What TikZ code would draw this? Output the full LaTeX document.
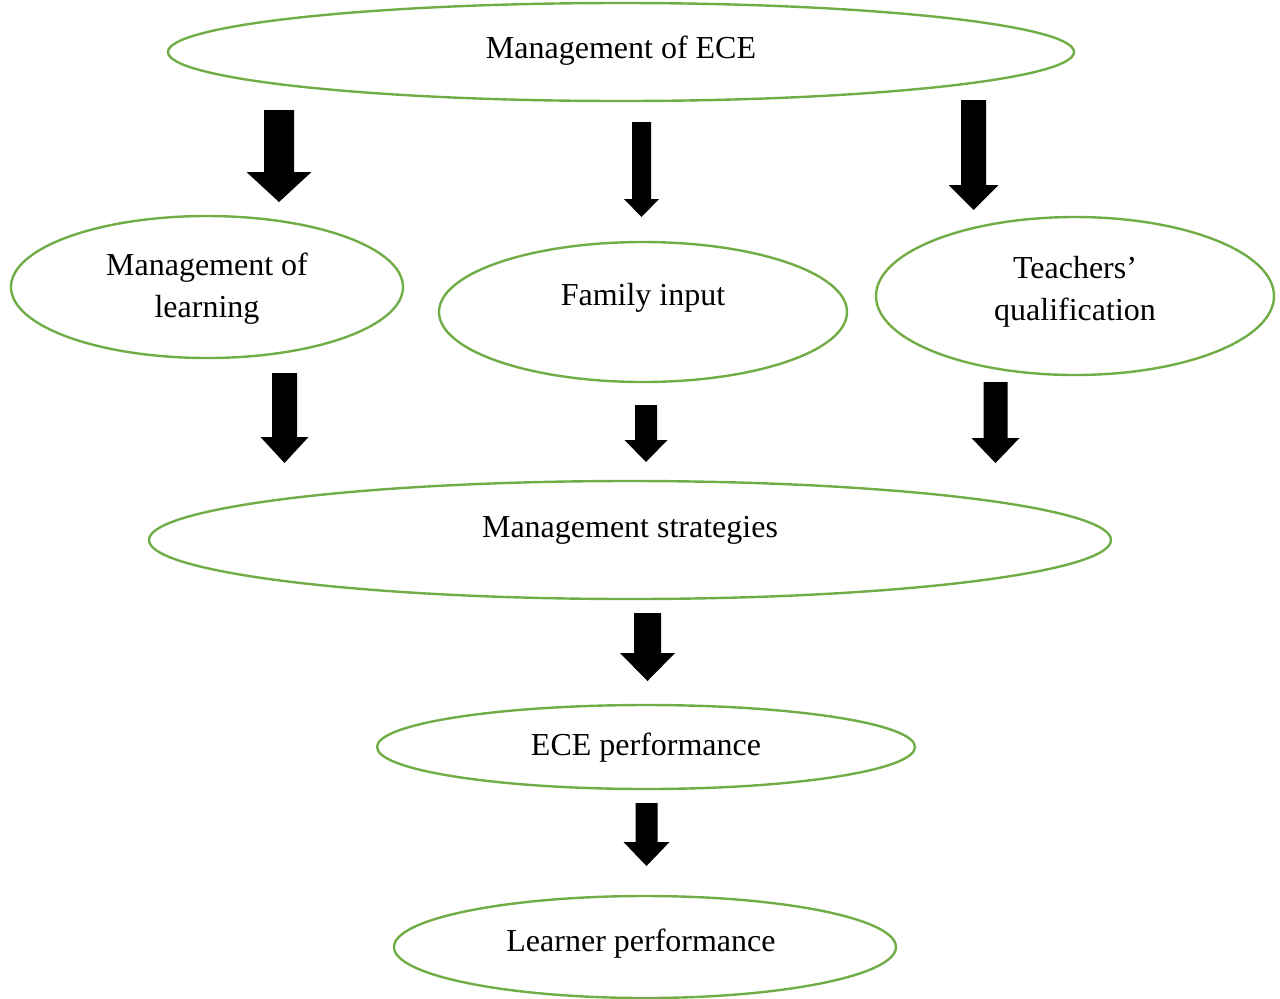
\documentclass[tikz,border=0pt]{standalone}
\usepackage{fontspec}
\setmainfont{Liberation Serif}
\usetikzlibrary{shapes.geometric}
\definecolor{ovalgreen}{HTML}{70AD47}
% block arrow: centre x, top y, head start y, tip y, shaft half width, head half width
\newcommand\blockarrow[6]{%
  \fill[black] ({#1-#5},#2) -- ({#1+#5},#2) -- ({#1+#5},#3) -- ({#1+#6},#3)
    -- (#1,#4) -- ({#1-#6},#3) -- ({#1-#5},#3) -- cycle;}
\begin{document}
\begin{tikzpicture}[x=0.5pt,y=-0.5pt,
  oval/.style={ellipse,draw=ovalgreen,line width=1.2pt,inner sep=0pt},
  label/.style={font=\fontsize{16pt}{21pt}\selectfont,inner sep=0pt,anchor=base,align=center}]
\useasboundingbox (0,0) rectangle (1280,998);
% ovals
\node[oval,minimum width=453pt,minimum height=49pt] (ece) at (621,52) {};
\node[oval,minimum width=196pt,minimum height=71pt] (learn) at (207,287) {};
\node[oval,minimum width=204pt,minimum height=70pt] (family) at (643,312) {};
\node[oval,minimum width=199pt,minimum height=79pt] (teach) at (1075,296) {};
\node[oval,minimum width=481pt,minimum height=59pt] (strat) at (630,540) {};
\node[oval,minimum width=269pt,minimum height=42pt] (eceperf) at (646,747) {};
\node[oval,minimum width=251pt,minimum height=51pt] (learner) at (645,947) {};
% texts (the base anchor of a two-line label sits on its last line)
\node[label] (t-ece) at (621,58) {Management of ECE};
\node[label] (t-learn) at (207,317) {Management of\\learning};
\node[label] (t-family) at (643,305) {Family input};
\node[label] (t-teach) at (1075,320) {Teachers’\\qualification};
\node[label] (t-strat) at (630,537) {Management strategies};
\node[label] (t-eceperf) at (646,755) {ECE performance};
\node[label] (t-learner) at (641,951) {Learner performance};
% arrows
\blockarrow{279}{110}{172}{202}{15}{32.5}
\blockarrow{641.5}{122}{199}{217}{9.5}{17.5}
\blockarrow{973.5}{100}{185}{210}{12.5}{25}
\blockarrow{284.5}{373}{437}{463}{12.5}{24}
\blockarrow{646}{405}{440}{462}{11}{21.5}
\blockarrow{995.5}{382}{438}{463}{12}{24}
\blockarrow{647.5}{613}{653}{681}{13.5}{27.5}
\blockarrow{646.5}{803}{842}{866}{11}{23}
\end{tikzpicture}
\end{document}
